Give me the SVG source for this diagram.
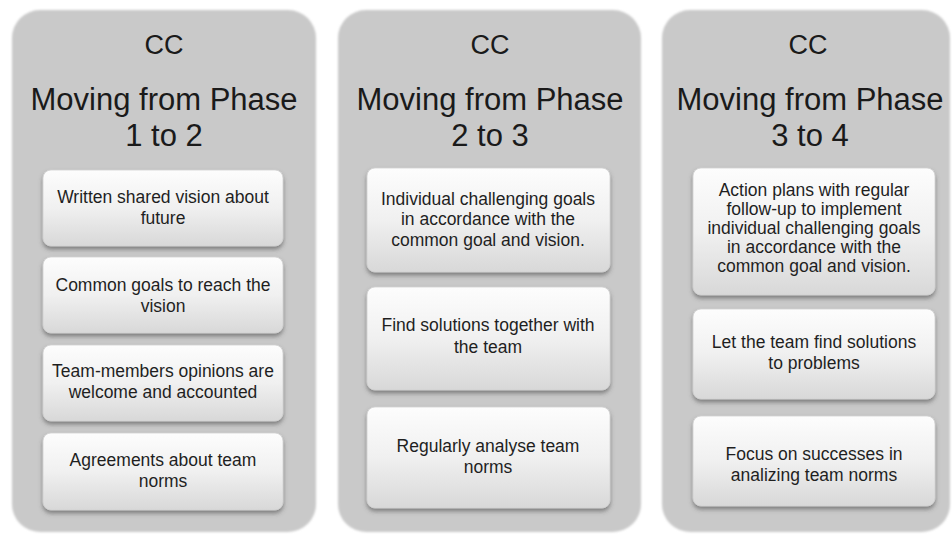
<svg xmlns="http://www.w3.org/2000/svg" width="952" height="536" viewBox="0 0 952 536">
<defs>
<linearGradient id="boxGrad" x1="0" y1="0" x2="0" y2="1">
<stop offset="0" stop-color="#fdfdfd"/>
<stop offset="0.5" stop-color="#f0f0f0"/>
<stop offset="1" stop-color="#d8d8d8"/>
</linearGradient>
<filter id="shadow" x="-10%" y="-10%" width="120%" height="130%">
<feDropShadow dx="0" dy="3" stdDeviation="2" flood-color="#444" flood-opacity="0.55"/>
</filter>
<filter id="soft" x="-5%" y="-5%" width="110%" height="110%">
<feGaussianBlur stdDeviation="0.8"/>
</filter>
</defs>
<style>
.panel{fill:#c9c9c9;}
.box{fill:url(#boxGrad);stroke:#d0d0d0;stroke-width:0.8;filter:url(#shadow);}
.t1{font-family:"Liberation Sans",Arial,sans-serif;font-size:27px;fill:#1a1a1a;text-anchor:middle;}
.t2{font-family:"Liberation Sans",Arial,sans-serif;font-size:31px;fill:#1a1a1a;text-anchor:middle;}
.tb{font-family:"Liberation Sans",Arial,sans-serif;font-size:17.5px;fill:#1f1f1f;text-anchor:middle;}
</style>
<rect width="952" height="536" fill="#ffffff"/>
<g id="panel1">
<rect class="panel" x="12" y="10" width="304" height="522" rx="28" filter="url(#soft)"/>
<text class="t1" x="164" y="54">CC</text>
<text class="t2" x="164" y="110">Moving from Phase</text>
<text class="t2" x="164" y="146">1 to 2</text>
</g>
<g id="panel2">
<rect class="panel" x="338" y="10" width="303" height="522" rx="28" filter="url(#soft)"/>
<text class="t1" x="490" y="54">CC</text>
<text class="t2" x="490" y="110">Moving from Phase</text>
<text class="t2" x="490" y="146">2 to 3</text>
</g>
<g id="panel3">
<rect class="panel" x="662" y="10" width="288" height="522" rx="28" filter="url(#soft)"/>
<text class="t1" x="808" y="54">CC</text>
<text class="t2" x="810" y="110">Moving from Phase</text>
<text class="t2" x="810" y="146">3 to 4</text>
</g>
<g id="p1b1">
<rect class="box" x="43" y="170" width="240" height="76" rx="8"/>
<text class="tb" x="163" y="203">Written shared vision about</text>
<text class="tb" x="163" y="224">future</text>
</g>
<g id="p1b2">
<rect class="box" x="43" y="257" width="240" height="76" rx="8"/>
<text class="tb" x="163" y="291">Common goals to reach the</text>
<text class="tb" x="163" y="312">vision</text>
</g>
<g id="p1b3">
<rect class="box" x="43" y="345" width="240" height="76" rx="8"/>
<text class="tb" x="163" y="377">Team-members opinions are</text>
<text class="tb" x="163" y="398">welcome and accounted</text>
</g>
<g id="p1b4">
<rect class="box" x="43" y="433" width="240" height="77" rx="8"/>
<text class="tb" x="163" y="466">Agreements about team</text>
<text class="tb" x="163" y="487">norms</text>
</g>
<g id="p2b1">
<rect class="box" x="367" y="168" width="243" height="104" rx="8"/>
<text class="tb" x="488" y="205">Individual challenging goals</text>
<text class="tb" x="488" y="225">in accordance with the</text>
<text class="tb" x="488" y="246">common goal and vision.</text>
</g>
<g id="p2b2">
<rect class="box" x="367" y="287" width="243" height="103" rx="8"/>
<text class="tb" x="488" y="331">Find solutions together with</text>
<text class="tb" x="488" y="353">the team</text>
</g>
<g id="p2b3">
<rect class="box" x="367" y="407" width="243" height="101" rx="8"/>
<text class="tb" x="488" y="452">Regularly analyse team</text>
<text class="tb" x="488" y="473">norms</text>
</g>
<g id="p3b1">
<rect class="box" x="693" y="168" width="242" height="127" rx="8"/>
<text class="tb" x="814" y="196">Action plans with regular</text>
<text class="tb" x="814" y="215">follow-up to implement</text>
<text class="tb" x="814" y="234">individual challenging goals</text>
<text class="tb" x="814" y="253">in accordance with the</text>
<text class="tb" x="814" y="272">common goal and vision.</text>
</g>
<g id="p3b2">
<rect class="box" x="693" y="309" width="242" height="90" rx="8"/>
<text class="tb" x="814" y="348">Let the team find solutions</text>
<text class="tb" x="814" y="369">to problems</text>
</g>
<g id="p3b3">
<rect class="box" x="693" y="416" width="242" height="90" rx="8"/>
<text class="tb" x="814" y="460">Focus on successes in</text>
<text class="tb" x="814" y="481">analizing team norms</text>
</g>
<g id="connectors"/>
</svg>
